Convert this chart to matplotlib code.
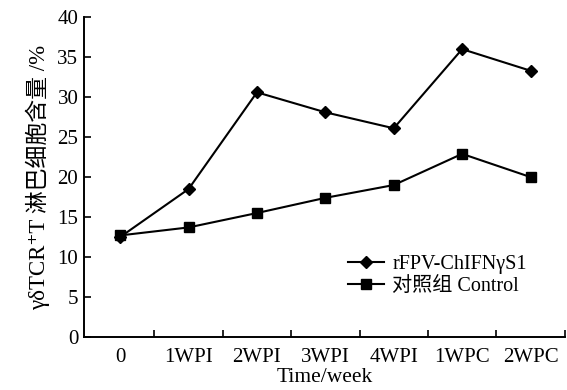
import matplotlib
matplotlib.use("Agg")
import matplotlib.pyplot as plt

# Data
categories = ["0", "1WPI", "2WPI", "3WPI", "4WPI", "1WPC", "2WPC"]
rfpv_values = [12.5, 18.5, 30.6, 28.1, 26.1, 36.0, 33.3]
control_values = [12.7, 13.7, 15.5, 17.4, 19.0, 22.9, 20.0]
y_ticks = [0, 5, 10, 15, 20, 25, 30, 35, 40]

fonts = ["Liberation Serif", "Noto Sans CJK SC", "DejaVu Sans"]
plt.rcParams["font.family"] = fonts

fig = plt.figure(figsize=(5.67, 3.9), dpi=100)
ax = fig.add_axes([0.148, 0.136, 0.848, 0.82])

x = list(range(len(categories)))
ax.plot(x, rfpv_values, color="black", lw=1.5, marker="D", markersize=6,
        label="rFPV-ChIFNγS1")
ax.plot(x, control_values, color="black", lw=1.5, marker="s", markersize=7,
        label="对照组 Control")

ax.set_xlim(-0.53, 6.5)
ax.set_ylim(0, 40)

# tick marks between categories, labels centred on categories
ax.set_xticks([i + 0.5 for i in x])
ax.set_xticklabels([])
ax.set_xticks(x, minor=True)
ax.set_xticklabels(categories, minor=True, fontsize=15)
ax.tick_params(axis="x", which="minor", length=0, pad=8)
ax.tick_params(axis="x", which="major", direction="in", length=5, width=1.2)

ax.set_yticks(y_ticks)
ax.set_yticklabels([str(v) for v in y_ticks], fontsize=15)
ax.tick_params(axis="y", direction="in", length=5, width=1.2, pad=4)

for side in ["top", "right"]:
    ax.spines[side].set_visible(False)
for side in ["left", "bottom"]:
    ax.spines[side].set_linewidth(1.4)

ax.set_xlabel("Time/week", fontsize=15.5, labelpad=1)
ax.set_ylabel("γδTCR⁺T 淋巴细胞含量 /%", fontsize=16.5, labelpad=5)

ax.legend(loc="upper left", bbox_to_anchor=(0.52, 0.30), frameon=False,
          fontsize=14.5, handlelength=1.8, handletextpad=0.4, labelspacing=0.15,
          borderpad=0.2)

fig.savefig("out.png", dpi=100)
